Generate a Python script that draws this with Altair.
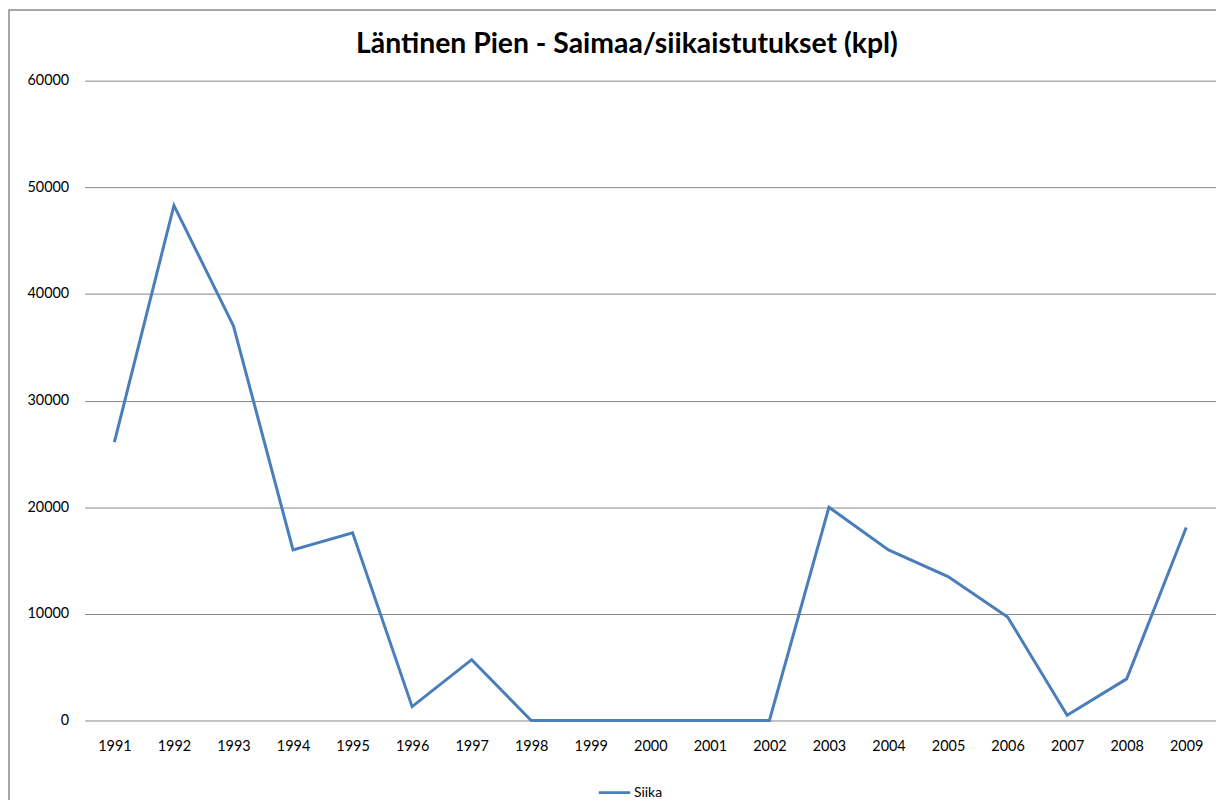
import altair as alt
import pandas as pd

years = [str(y) for y in range(1991, 2010)]
siika = [26100, 48300, 37000, 16000, 17600, 1300, 5700, 0, 0, 0, 0, 0,
         20000, 16000, 13500, 9700, 500, 3900, 18100]
series_name = "Siika"
title_text = "Läntinen Pien - Saimaa/siikaistutukset (kpl)"
y_ticks = [0, 10000, 20000, 30000, 40000, 50000, 60000]

df = pd.DataFrame({"vuosi": years, "kpl": siika, "sarja": [series_name] * len(years)})

FONT = "Lato"

line = alt.Chart(df).mark_line(strokeWidth=3).encode(
    x=alt.X("vuosi:O", sort=years,
            scale=alt.Scale(type="point", padding=0.5),
            axis=alt.Axis(title=None, labelAngle=0, domain=False, ticks=False,
                          labelPadding=19, labelFontSize=14.5, labelColor="#000",
                          labelFont=FONT, grid=False)),
    y=alt.Y("kpl:Q", scale=alt.Scale(domain=[0, 60000], nice=False),
            axis=alt.Axis(title=None, values=y_ticks, domain=False, ticks=False,
                          labelPadding=16, labelFontSize=14.5, labelColor="#000",
                          labelFont=FONT, grid=True, gridColor="#868686",
                          gridWidth=1, format="d")),
    color=alt.Color("sarja:N", scale=alt.Scale(range=["#4a7ebb"]),
                    legend=alt.Legend(title=None, orient="none", legendX=515,
                                      legendY=698, symbolType="stroke",
                                      symbolSize=1000, symbolStrokeWidth=3,
                                      labelFontSize=14, labelFont=FONT,
                                      labelColor="#000", labelOffset=2)),
)

border = alt.Chart(pd.DataFrame({"a": [0]})).mark_rect(
    fill="transparent", stroke="#8a8a8a", strokeWidth=1.5
).encode(x=alt.value(-76), x2=alt.value(1200), y=alt.value(-71), y2=alt.value(790))

title = alt.Chart(pd.DataFrame({"t": [title_text]})).mark_text(
    font=FONT, fontSize=28.5, fontWeight="bold", color="#000",
    align="center", baseline="middle"
).encode(text="t:N", x=alt.value(545), y=alt.value(-37))

chart = alt.layer(border, title, line).properties(
    width=1137, height=643,
    autosize=alt.AutoSizeParams(type="none"),
    padding={"left": 77, "top": 71, "right": 0, "bottom": 100},
    background="white",
).configure_view(stroke="transparent", strokeWidth=0).configure_axis(
    domain=False
)

chart.save("out.html", embed_options={"renderer": "svg", "actions": False})
